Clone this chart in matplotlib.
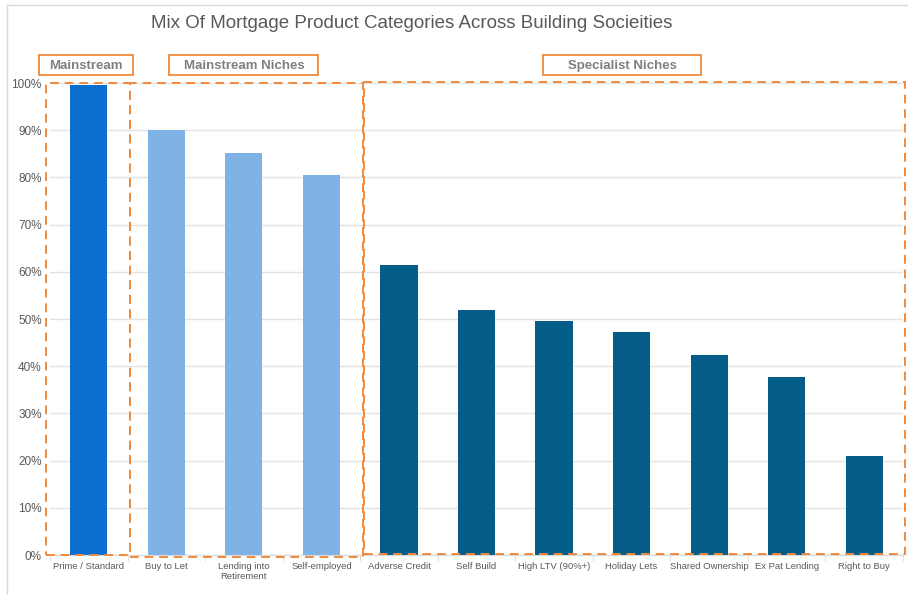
import matplotlib
matplotlib.use('Agg')
import matplotlib.pyplot as plt
from matplotlib.patches import Rectangle

plt.rcParams['font.family'] = ['Liberation Sans', 'DejaVu Sans']

# Data
categories = ['Prime / Standard', 'Buy to Let', 'Lending into\nRetirement', 'Self-employed',
              'Adverse Credit', 'Self Build', 'High LTV (90%+)', 'Holiday Lets',
              'Shared Ownership', 'Ex Pat Lending', 'Right to Buy']
values = [99.6, 90.0, 85.2, 80.5, 61.4, 51.9, 49.6, 47.2, 42.4, 37.7, 21.0]
groups = ['main', 'niche', 'niche', 'niche', 'spec', 'spec', 'spec', 'spec', 'spec', 'spec', 'spec']
group_colors = {'main': '#0B6FD0', 'niche': '#7FB2E5', 'spec': '#045D89'}

orange = '#F08A3C'
gray_text = '#595959'

fig = plt.figure(figsize=(9.08, 5.95), dpi=100)
ax = fig.add_axes([50 / 908, 40 / 595, 853 / 908, 472 / 595])

x = list(range(len(categories)))
ax.bar(x, values, width=0.48, color=[group_colors[g] for g in groups], zorder=2)

ax.set_xlim(-0.5, len(categories) - 0.5)
ax.set_ylim(0, 100)
ax.set_yticks(range(0, 101, 10))
ax.set_yticklabels([f'{v}%' for v in range(0, 101, 10)], fontsize=8.5, color=gray_text)
ax.set_xticks(x)
ax.set_xticklabels(categories, fontsize=6.8, color=gray_text)
ax.tick_params(axis='x', length=0, pad=5)
ax.tick_params(axis='y', length=0, pad=6)
# small boundary ticks on the category axis
ax.set_xticks([i - 0.5 for i in range(len(categories) + 1)], minor=True)
ax.tick_params(axis='x', which='minor', length=4, color='#D9D9D9')

ax.grid(axis='y', color='#E3E3E3', linewidth=1, zorder=0)
for s in ['top', 'right', 'left']:
    ax.spines[s].set_visible(False)
ax.spines['bottom'].set_color('#D9D9D9')

# dashed group boxes
dash = dict(fill=False, edgecolor=orange, linewidth=1.4, linestyle=(0, (4.5, 3)),
            clip_on=False, zorder=3)
ax.add_patch(Rectangle((-0.55, 0), 1.08, 100, **dash))
ax.add_patch(Rectangle((0.53, -0.4), 3.0, 100.4, **dash))
ax.add_patch(Rectangle((3.55, 0.2), 6.98, 100.0, **dash))

# group label boxes
labels = [('Mainstream', -0.64, 0.57), ('Mainstream Niches', 1.04, 2.96),
          ('Specialist Niches', 5.86, 7.90)]
for text, x0, x1 in labels:
    ax.add_patch(Rectangle((x0, 101.7), x1 - x0, 4.3, fill=False, edgecolor=orange,
                           linewidth=1.3, clip_on=False))
    ax.text((x0 + x1) / 2, 103.85, text, ha='center', va='center_baseline', fontsize=9.5,
            fontweight='bold', color='#7F7F7F')

fig.text(412 / 908, 1 - 23 / 595, 'Mix Of Mortgage Product Categories Across Building Socieities',
         ha='center', va='center', fontsize=13.5, color=gray_text)

# chart area border
fig.add_artist(plt.Line2D([7 / 908, 7 / 908], [0, 1 - 5 / 595], color='#D9D9D9', linewidth=1))
fig.add_artist(plt.Line2D([7 / 908, 1], [1 - 5 / 595, 1 - 5 / 595], color='#D9D9D9', linewidth=1))

fig.savefig('out.png', dpi=100)
